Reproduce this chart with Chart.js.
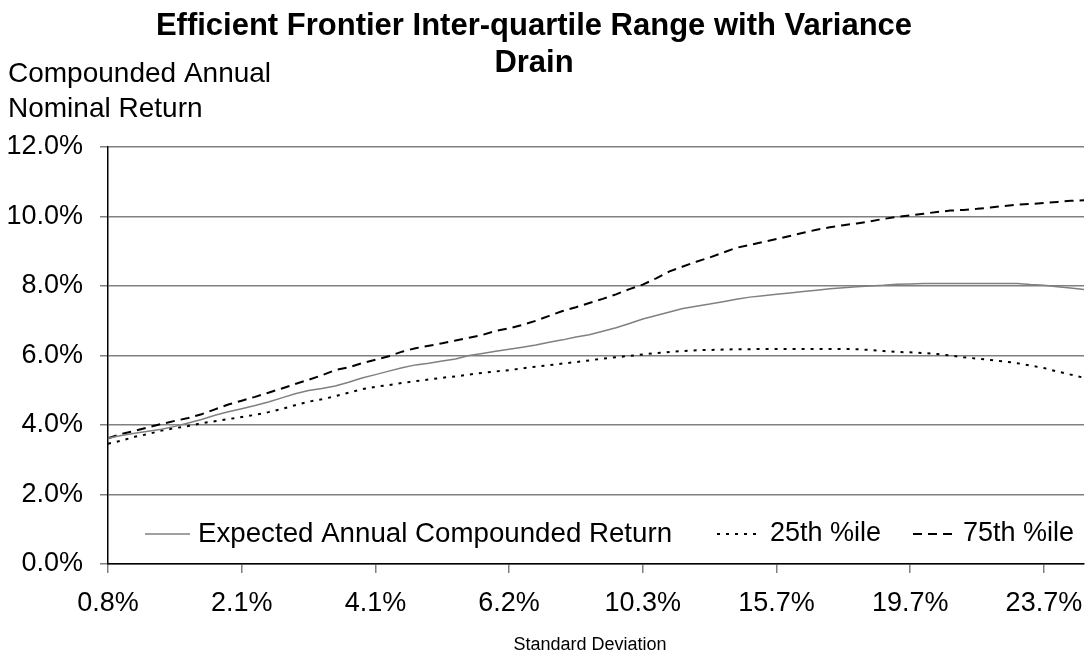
<!DOCTYPE html>
<html>
<head>
<meta charset="utf-8">
<script src="https://cdn.jsdelivr.net/npm/chart.js@4/dist/chart.umd.min.js"></script>
<style>
  html, body { margin: 0; padding: 0; background: #fff; }
</style>
</head>
<body>
<canvas id="frontier" width="1088" height="655"></canvas>
<script>
  // standard deviation of each frontier portfolio (only every 10th is labelled)
  let stdDev = [
    0.8, 0.9, 1.0, 1.1, 1.2, 1.3, 1.5, 1.6, 1.8, 1.9,
    2.1, 2.3, 2.5, 2.7, 2.9, 3.1, 3.3, 3.5, 3.7, 3.9,
    4.1, 4.3, 4.5, 4.7, 4.9, 5.1, 5.3, 5.5, 5.7, 6.0,
    6.2, 6.5, 6.8, 7.1, 7.5, 7.9, 8.3, 8.8, 9.3, 9.8,
    10.3, 10.8, 11.4, 11.9, 12.5, 13.0, 13.6, 14.1, 14.6, 15.2,
    15.7, 16.1, 16.5, 16.9, 17.3, 17.7, 18.1, 18.5, 18.9, 19.3,
    19.7, 20.1, 20.5, 20.9, 21.3, 21.7, 22.1, 22.5, 22.9, 23.3,
    23.7, 24.1, 24.5, 24.9
  ];

  let expectedReturn = [
    3.62, 3.70, 3.76, 3.82, 3.88, 3.96, 4.06, 4.16, 4.28, 4.38,
    4.47, 4.56, 4.66, 4.78, 4.90, 4.99, 5.05, 5.12, 5.23, 5.35,
    5.45, 5.55, 5.65, 5.73, 5.78, 5.84, 5.90, 6.00, 6.06, 6.12,
    6.18, 6.24, 6.30, 6.38, 6.45, 6.53, 6.60, 6.70, 6.80, 6.92,
    7.05, 7.15, 7.25, 7.35, 7.42, 7.48, 7.55, 7.62, 7.68, 7.72,
    7.76, 7.80, 7.84, 7.88, 7.92, 7.95, 7.98, 8.00, 8.02, 8.05,
    8.06, 8.07, 8.07, 8.07, 8.07, 8.07, 8.07, 8.07, 8.07, 8.04,
    8.02, 7.98, 7.94, 7.90
  ];

  let pct25 = [
    3.46, 3.55, 3.66, 3.74, 3.84, 3.91, 3.97, 4.05, 4.11, 4.17,
    4.23, 4.29, 4.37, 4.46, 4.57, 4.67, 4.74, 4.83, 4.93, 5.03,
    5.10, 5.15, 5.21, 5.26, 5.31, 5.36, 5.40, 5.45, 5.50, 5.54,
    5.58, 5.63, 5.68, 5.72, 5.77, 5.81, 5.86, 5.91, 5.95, 5.99,
    6.03, 6.07, 6.10, 6.13, 6.15, 6.16, 6.17, 6.18, 6.18, 6.19,
    6.19, 6.19, 6.19, 6.19, 6.19, 6.19, 6.18, 6.16, 6.13, 6.10,
    6.09, 6.07, 6.04, 6.00, 5.95, 5.91, 5.87, 5.83, 5.78, 5.71,
    5.64, 5.54, 5.45, 5.36
  ];

  let pct75 = [
    3.62, 3.74, 3.83, 3.93, 4.03, 4.12, 4.20, 4.31, 4.45, 4.59,
    4.70, 4.81, 4.93, 5.05, 5.18, 5.30, 5.43, 5.58, 5.66, 5.78,
    5.88, 5.98, 6.11, 6.21, 6.28, 6.35, 6.43, 6.51, 6.59, 6.71,
    6.78, 6.88, 7.00, 7.14, 7.28, 7.39, 7.51, 7.63, 7.76, 7.91,
    8.04, 8.22, 8.42, 8.56, 8.70, 8.82, 8.96, 9.10, 9.18, 9.27,
    9.35, 9.44, 9.53, 9.62, 9.69, 9.75, 9.80, 9.86, 9.93, 9.99,
    10.03, 10.08, 10.13, 10.17, 10.19, 10.22, 10.26, 10.30, 10.34, 10.36,
    10.39, 10.42, 10.45, 10.47
  ];

  let yTicks = [0, 2, 4, 6, 8, 10, 12];
  let labelEvery = 10;

  let titleLines = ['Efficient Frontier Inter-quartile Range with Variance', 'Drain'];
  let yTitleLines = ['Compounded Annual', 'Nominal Return'];
  let xTitle = 'Standard Deviation';

  let font = '"Liberation Sans", Arial, sans-serif';

  // titles and the in-plot legend, drawn straight on the canvas
  let textPlugin = {
    id: 'texts',
    afterDraw(chart) {
      let ctx = chart.ctx;
      ctx.save();
      ctx.fillStyle = '#000';
      ctx.textBaseline = 'middle';

      ctx.font = 'bold 31px ' + font;
      ctx.textAlign = 'center';
      titleLines.forEach((t, i) => ctx.fillText(t, 534, 26 + i * 37));

      ctx.font = '28px ' + font;
      ctx.textAlign = 'left';
      yTitleLines.forEach((t, i) => ctx.fillText(t, 8, 74 + i * 35));

      ctx.font = '18px ' + font;
      ctx.textAlign = 'center';
      ctx.fillText(xTitle, 590, 645);

      // legend
      let starts = [145, 717, 913];
      let gaps = [8, 8, 5];
      let ly = 534;
      chart.data.datasets.forEach((ds, i) => {
        ctx.save();
        ctx.strokeStyle = ds.borderColor;
        ctx.lineWidth = ds.borderWidth;
        ctx.setLineDash(ds.borderDash || []);
        ctx.beginPath();
        ctx.moveTo(starts[i], ly);
        ctx.lineTo(starts[i] + 45, ly);
        ctx.stroke();
        ctx.restore();
        ctx.font = (i === 0 ? '27.7px ' : '27px ') + font;
        ctx.textAlign = 'left';
        ctx.fillText(ds.label, starts[i] + 45 + gaps[i], ly);
      });
      ctx.restore();
    }
  };

  let frontierCtx = document.getElementById('frontier').getContext('2d');

  let frontierChart = new Chart(frontierCtx, {
    type: 'line',
    data: {
      labels: stdDev.map(v => v.toFixed(1) + '%'),
      datasets: [{
        label: 'Expected Annual Compounded Return',
        data: expectedReturn,
        borderColor: '#808080',
        borderWidth: 1.5,
        pointRadius: 0,
        fill: false
      }, {
        label: '25th %ile',
        data: pct25,
        borderColor: '#000',
        borderWidth: 2,
        borderDash: [3, 6],
        pointRadius: 0,
        fill: false
      }, {
        label: '75th %ile',
        data: pct75,
        borderColor: '#000',
        borderWidth: 2,
        borderDash: [9, 6],
        pointRadius: 0,
        fill: false
      }]
    },
    options: {
      responsive: false,
      animation: false,
      layout: {
        padding: { top: 147, right: 4, left: 0, bottom: 0 }
      },
      plugins: {
        legend: { display: false },
        title: { display: false },
        tooltip: { enabled: false }
      },
      scales: {
        x: {
          type: 'category',
          offset: false,
          afterFit(scale) {
            scale.height = 91;
            scale.paddingLeft = 0;
            scale.paddingRight = 0;
          },
          grid: {
            drawOnChartArea: false,
            tickLength: 9,
            color: '#808080',
            lineWidth: 1.5
          },
          border: { display: true, color: '#000', width: 1.5 },
          ticks: {
            autoSkip: false,
            maxRotation: 0,
            padding: 14,
            color: '#000',
            font: { size: 27, family: font },
            callback: function (value, index) {
              return index % labelEvery === 0 ? this.getLabelForValue(value) : null;
            }
          }
        },
        y: {
          min: yTicks[0],
          max: yTicks[yTicks.length - 1],
          afterFit(scale) { scale.width = 108; },
          afterBuildTicks(scale) { scale.ticks = yTicks.map(v => ({ value: v })); },
          grid: {
            color: '#808080',
            lineWidth: 1.5,
            tickLength: 8
          },
          border: { display: true, color: '#000', width: 1.5 },
          ticks: {
            padding: 17,
            color: '#000',
            font: { size: 27, family: font },
            callback: v => v.toFixed(1) + '%'
          }
        }
      }
    },
    plugins: [textPlugin]
  });
</script>
</body>
</html>
